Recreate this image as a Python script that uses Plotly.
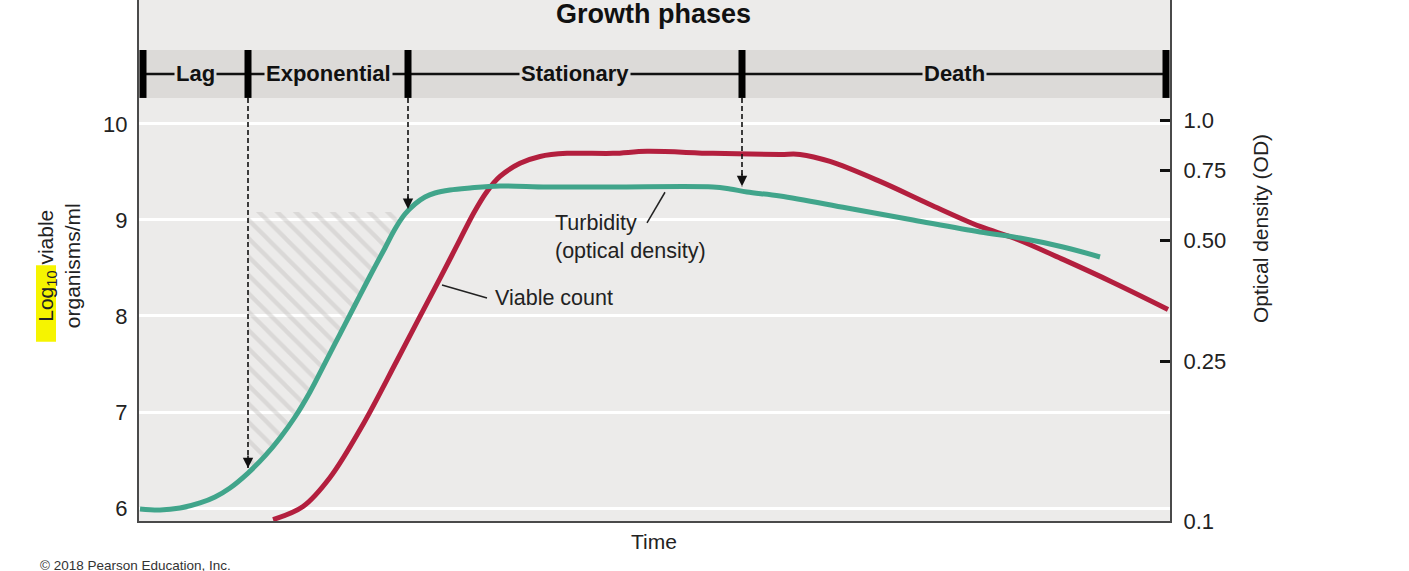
import math
import plotly.graph_objects as go

# ---------------- data ----------------
phase_names = ["Lag", "Exponential", "Stationary", "Death"]
phase_bounds = [0.4, 10.9, 26.9, 60.3, 102.7]

# Turbidity (optical density), right log axis
time_od = [0.1, 2.1, 4.1, 6.1, 7.6, 9.1, 10.9, 12.6, 14.1, 15.6, 17.1, 18.6,
           20.1, 21.6, 23.1, 24.6, 25.6, 26.6, 27.6, 28.6, 29.6, 31.1, 33.1,
           36.1, 40.8, 47.4, 57.4, 59.1, 60.8, 64.1, 70.8, 77.4, 84.1, 88.1,
           92.4, 96.1]
od = [0.1071, 0.1065, 0.1077, 0.1109, 0.1148, 0.1209, 0.1317, 0.1453, 0.1611,
      0.1817, 0.2098, 0.2477, 0.2926, 0.3457, 0.4083, 0.4796, 0.5349, 0.5829,
      0.6173, 0.6427, 0.6577, 0.6690, 0.6768, 0.6846, 0.6807, 0.6807, 0.6807,
      0.6729, 0.6613, 0.6463, 0.6033, 0.5631, 0.5256, 0.5078, 0.4824, 0.4554]

# Viable count, left axis (log10 organisms/ml)
time_count = [13.4, 16.4, 19.1, 22.4, 25.8, 28.1, 30.1, 31.8, 33.5, 34.8, 36.1,
              38.1, 40.1, 42.8, 47.4, 50.8, 57.4, 64.1, 66.1, 69.1, 74.1, 79.1,
              84.1, 87.6, 92.4, 97.4, 102.9]
log_count = [5.880, 6.016, 6.318, 6.870, 7.536, 7.995, 8.391, 8.734, 9.078,
             9.297, 9.453, 9.589, 9.661, 9.693, 9.693, 9.714, 9.693, 9.682,
             9.682, 9.609, 9.401, 9.161, 8.932, 8.807, 8.589, 8.349, 8.068]

# arrows from the phase band down to the turbidity curve
arrow_x = [10.9, 26.9, 60.3]
arrow_tip_od = [0.1355, 0.600, 0.684]
band_bottom_od = 1.135

# hatched region (exponential phase)
hatch_x = [10.9, 26.8]
hatch_top_od = 0.5896

left_ticks = [6, 7, 8, 9, 10]
right_ticks = [0.1, 0.25, 0.5, 0.75, 1.0]
right_labels = ["0.1", "0.25", "0.50", "0.75", "1.0"]

# ---------------- style ----------------
FONT = "Liberation Sans, Arial, Helvetica, sans-serif"
GREEN = "#41a58b"
RED = "#b31f3e"
PLOT_BG = "#ecebea"
BAND = "#dcdad8"
AXIS = "#4a4a4a"

X_RANGE = [0, 103.1]
Y_RANGE = [5.865, 11.29]
Y2_RANGE = [-1.0, 0.2993]

BAND_Y0, BAND_Y1, BAND_MID = 0.812, 0.904, 0.858

fig = go.Figure()

# hatched polygon: top edge + turbidity curve back down
seg = [(t, v) for t, v in zip(time_od, od) if hatch_x[0] <= t < hatch_x[1]]
hx = [hatch_x[0], hatch_x[1]] + [t for t, v in seg][::-1]
hy = [hatch_top_od, hatch_top_od] + [v for t, v in seg][::-1]
fig.add_trace(go.Scatter(
    x=hx, y=hy, yaxis="y2", mode="lines", fill="toself",
    fillcolor="rgba(0,0,0,0)", line=dict(width=0, color="rgba(0,0,0,0)"),
    fillpattern=dict(shape="\\", fgcolor="#c8c6c4", bgcolor="rgba(0,0,0,0)",
                     size=13, solidity=0.33),
    hoverinfo="skip", showlegend=False))

# dashed guide lines
for xa, tip in zip(arrow_x, arrow_tip_od):
    fig.add_trace(go.Scatter(
        x=[xa, xa], y=[band_bottom_od, tip], yaxis="y2", mode="lines",
        line=dict(color="#111", width=1.6, dash="5px,3px"),
        hoverinfo="skip", showlegend=False))

# curves
fig.add_trace(go.Scatter(
    x=time_count, y=log_count, mode="lines", name="Viable count",
    line=dict(color=RED, width=5, shape="spline", smoothing=1.0),
    showlegend=False))
fig.add_trace(go.Scatter(
    x=time_od, y=od, yaxis="y2", mode="lines", name="Turbidity",
    line=dict(color=GREEN, width=5, shape="spline", smoothing=1.0),
    showlegend=False))

shapes = []
# phase band
shapes.append(dict(type="rect", xref="paper", yref="paper", x0=0, x1=1,
                   y0=BAND_Y0, y1=BAND_Y1, fillcolor=BAND,
                   line=dict(width=0), layer="below"))
shapes.append(dict(type="line", xref="x", yref="paper", x0=phase_bounds[0],
                   x1=phase_bounds[-1], y0=BAND_MID, y1=BAND_MID,
                   line=dict(color="#111", width=2.5), layer="above"))
for b in phase_bounds:
    shapes.append(dict(type="line", xref="x", yref="paper", x0=b, x1=b,
                       y0=BAND_Y0, y1=BAND_Y1,
                       line=dict(color="#000", width=7), layer="above"))
# leader lines
shapes.append(dict(type="line", xref="x", yref="paper", x0=50.8, x1=52.6,
                   y0=0.572, y1=0.631, line=dict(color="#222", width=1.5)))
shapes.append(dict(type="line", xref="x", yref="paper", x0=30.3, x1=34.8,
                   y0=0.453, y1=0.428, line=dict(color="#222", width=1.5)))
# yellow highlight on "Log10"
shapes.append(dict(type="rect", xref="paper", yref="paper", x0=-0.0999,
                   x1=-0.0805, y0=0.344, y1=0.491, fillcolor="#f6f400",
                   line=dict(width=0), layer="below"))

annotations = []
for i, name in enumerate(phase_names):
    annotations.append(dict(
        x=(phase_bounds[i] + phase_bounds[i + 1]) / 2, y=BAND_MID,
        xref="x", yref="paper", xanchor="center", yanchor="middle",
        text="<b>%s</b>" % name, showarrow=False,
        font=dict(family=FONT, size=22, color="#111"), bgcolor=BAND,
        borderpad=1))
# arrowheads
for xa, tip in zip(arrow_x, arrow_tip_od):
    annotations.append(dict(
        x=xa, y=math.log10(tip), xref="x", yref="y2", text="", showarrow=True,
        ax=0, ay=-14, arrowhead=2, arrowsize=1.3, arrowwidth=1.6,
        arrowcolor="#111"))

annotations += [
    dict(x=0.4995, y=0.973, xref="paper", yref="paper", xanchor="center",
         yanchor="middle", text="<b>Growth phases</b>", showarrow=False,
         font=dict(family=FONT, size=27, color="#111")),
    dict(x=41.4, y=0.545, xref="x", yref="paper", xanchor="left",
         yanchor="middle", text="Turbidity<br>(optical density)",
         showarrow=False, align="left",
         font=dict(family=FONT, size=21.5, color="#222")),
    dict(x=35.4, y=0.428, xref="x", yref="paper", xanchor="left",
         yanchor="middle", text="Viable count", showarrow=False,
         font=dict(family=FONT, size=21.5, color="#222")),
    dict(x=-0.0776, y=0.491, xref="paper", yref="paper", xanchor="center",
         yanchor="middle", textangle=-90,
         text="Log<sub>10</sub> viable<br>organisms/ml", showarrow=False,
         font=dict(family=FONT, size=21, color="#222")),
    dict(x=1.0883, y=0.5605, xref="paper", yref="paper", xanchor="center",
         yanchor="middle", textangle=-90,
         text="Optical density (OD)", showarrow=False,
         font=dict(family=FONT, size=21, color="#222")),
    dict(x=0.4995, y=-0.0384, xref="paper", yref="paper", xanchor="center",
         yanchor="middle", text="Time",
         showarrow=False, font=dict(family=FONT, size=21, color="#222")),
    dict(x=-0.098, y=-0.0845, xref="paper", yref="paper", xanchor="left",
         yanchor="middle", text="© 2018 Pearson Education, Inc.",
         showarrow=False, font=dict(family=FONT, size=13.5, color="#333")),
]

fig.update_layout(
    width=1409, height=571,
    margin=dict(l=139, r=239, t=0, b=50, pad=0),
    paper_bgcolor="white", plot_bgcolor=PLOT_BG,
    font=dict(family=FONT, color="#222"),
    showlegend=False,
    xaxis=dict(range=X_RANGE, showgrid=False, showticklabels=False, ticks="",
               showline=True, linecolor=AXIS, linewidth=2, zeroline=False,
               fixedrange=True),
    yaxis=dict(range=Y_RANGE, tickvals=left_ticks, showgrid=True,
               gridcolor="white", gridwidth=3, showline=True, linecolor=AXIS,
               linewidth=2, ticks="", zeroline=False, ticklabelstandoff=5,
               tickfont=dict(size=22, color="#222", family=FONT)),
    yaxis2=dict(overlaying="y", side="right", type="log", range=Y2_RANGE,
                tickvals=right_ticks, ticktext=right_labels, ticks="inside",
                ticklen=10, tickwidth=3, tickcolor="#111", showgrid=False,
                showline=True, linecolor=AXIS, linewidth=2, zeroline=False,
                ticklabelstandoff=7,
                tickfont=dict(size=22, color="#222", family=FONT)),
    shapes=shapes,
    annotations=annotations,
)

fig.write_html("out.html", config={"displayModeBar": False},
               post_script="document.body.style.margin='0';")
